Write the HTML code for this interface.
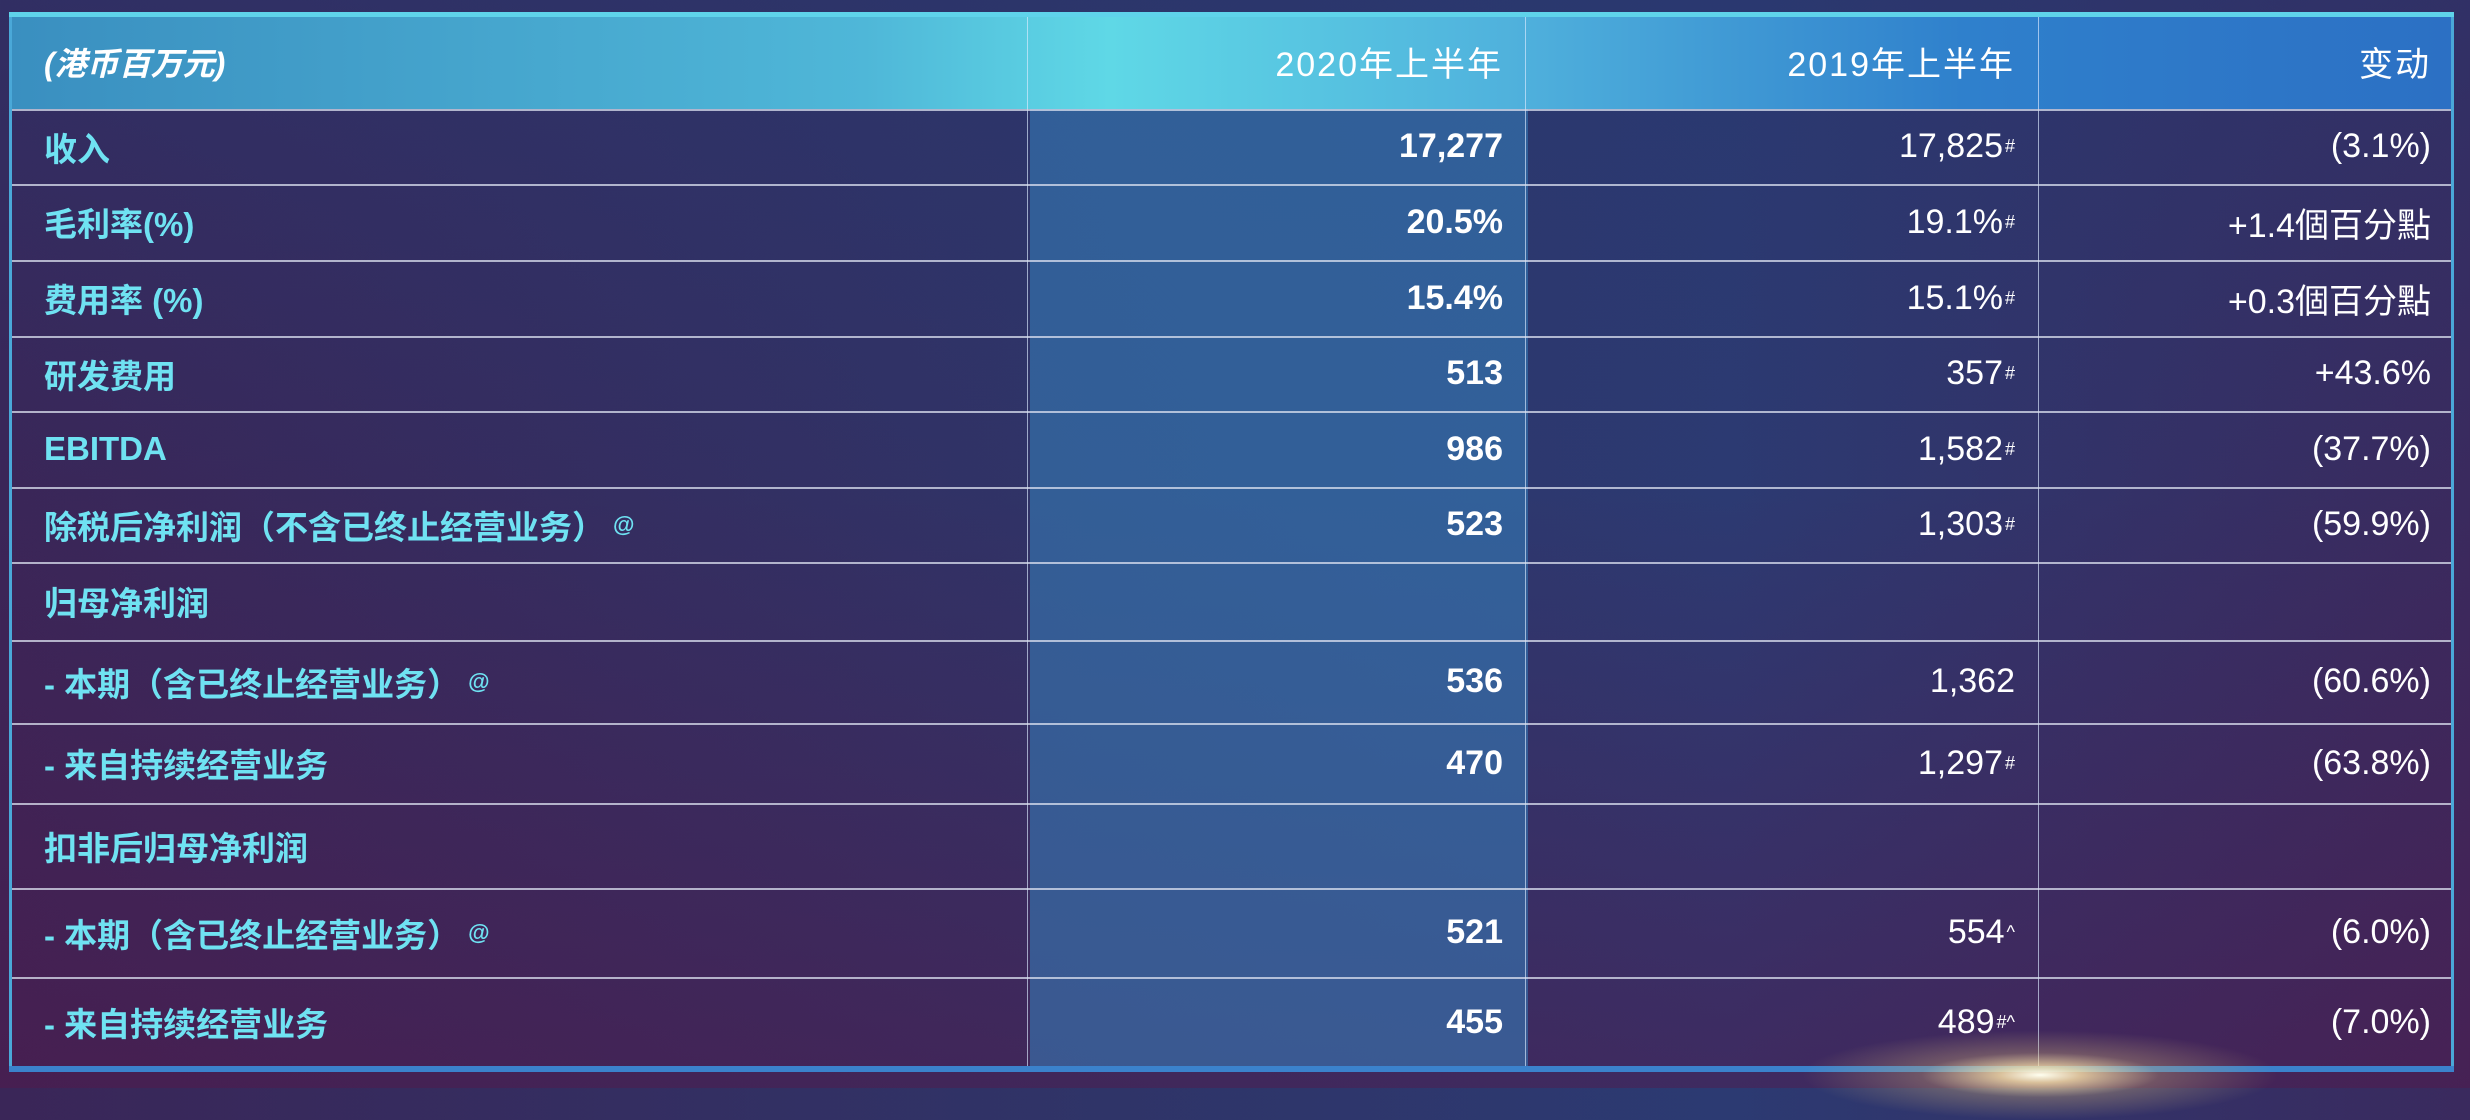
<!DOCTYPE html>
<html><head><meta charset="utf-8">
<style>
html,body{margin:0;padding:0;}
body{width:2470px;height:1088px;overflow:hidden;position:relative;
background:linear-gradient(90deg,#3a2658 0%,#2f3468 45%,#2c3a72 70%,#3a2a5e 100%);
font-family:"Liberation Sans","Noto Sans CJK SC",sans-serif;}
#bgshade{position:absolute;left:0;top:0;width:2470px;height:1088px;
background:linear-gradient(180deg,rgba(40,55,110,0.5) 0%,rgba(0,0,0,0) 45%,rgba(90,20,70,0.4) 100%);}
#table{position:absolute;left:9px;top:14px;width:2445px;height:1053px;border-left:3px solid #4aa8d8;border-right:3px solid #4aa8d8;box-sizing:border-box;}
#topbar{position:absolute;left:9px;top:12px;width:2445px;height:5px;background:#5fd3ea;}
#botbar{position:absolute;left:9px;top:1066px;width:2445px;height:6px;background:#3b82cc;}
#header{position:absolute;left:0;top:0;width:100%;height:95px;
background:linear-gradient(90deg,#3a8fc0 0%,#4fb7d8 35%,#5fd8e6 45%,#4fb0dc 62%,#2f80cc 80%,#2c70c4 100%);}
#col2020{position:absolute;left:1018px;top:95px;width:498px;height:958px;background:rgba(55,130,190,0.55);}
.vline{position:absolute;top:0;width:1px;height:1053px;background:rgba(220,235,255,0.65);}
.hline{position:absolute;left:0;width:100%;height:2px;background:rgba(220,225,240,0.75);}
.cell{position:absolute;display:flex;align-items:center;white-space:nowrap;}
.lbl{left:32px;color:#6fe2f2;font-weight:bold;font-size:33px;}
.h{color:#fff;font-size:50px;letter-spacing:2px;}
.c1{right:948px;justify-content:flex-end;color:#fff;font-weight:bold;font-size:34px;}
.c2{right:436px;justify-content:flex-end;color:#fff;font-size:34px;}
.c3{right:20px;justify-content:flex-end;color:#fff;font-size:34px;}
sup{font-size:18px;vertical-align:12px;margin-left:2px;}
.lbl sup{font-size:22px;vertical-align:16px;margin-left:8px;}
#glow{position:absolute;left:1800px;top:1030px;width:480px;height:90px;
background:radial-gradient(ellipse at center,rgba(255,255,240,1) 0%,rgba(255,230,170,0.8) 12%,rgba(200,170,120,0.35) 35%,rgba(0,0,0,0) 70%);}
</style></head><body>
<div id="bgshade"></div>
<div id="table">
  <div id="header"></div>
  <div id="col2020"></div>
  <div class="vline" style="left:1015px"></div>
  <div class="vline" style="left:1513px"></div>
  <div class="vline" style="left:2026px"></div>

  <div class="hline" style="top:95px"></div>
  <div class="hline" style="top:170px"></div>
  <div class="hline" style="top:246px"></div>
  <div class="hline" style="top:322px"></div>
  <div class="hline" style="top:397px"></div>
  <div class="hline" style="top:473px"></div>
  <div class="hline" style="top:548px"></div>
  <div class="hline" style="top:626px"></div>
  <div class="hline" style="top:709px"></div>
  <div class="hline" style="top:789px"></div>
  <div class="hline" style="top:874px"></div>
  <div class="hline" style="top:963px"></div>

  <div class="cell lbl" style="top:0;height:95px;color:#fff;font-style:italic;font-size:32px">(港币百万元)</div>
  <div class="cell c1 h" style="top:0;height:95px;font-weight:normal">2020年上半年</div>
  <div class="cell c2 h" style="top:0;height:95px">2019年上半年</div>
  <div class="cell c3 h" style="top:0;height:95px">变动</div>

  <div class="cell lbl" style="top:95px;height:75px">收入</div>
  <div class="cell c1" style="top:95px;height:75px">17,277</div>
  <div class="cell c2" style="top:95px;height:75px">17,825<sup>#</sup></div>
  <div class="cell c3" style="top:95px;height:75px">(3.1%)</div>

  <div class="cell lbl" style="top:170px;height:76px">毛利率(%)</div>
  <div class="cell c1" style="top:170px;height:76px">20.5%</div>
  <div class="cell c2" style="top:170px;height:76px">19.1%<sup>#</sup></div>
  <div class="cell c3" style="top:170px;height:76px">+1.4個百分點</div>

  <div class="cell lbl" style="top:246px;height:76px">费用率 (%)</div>
  <div class="cell c1" style="top:246px;height:76px">15.4%</div>
  <div class="cell c2" style="top:246px;height:76px">15.1%<sup>#</sup></div>
  <div class="cell c3" style="top:246px;height:76px">+0.3個百分點</div>

  <div class="cell lbl" style="top:322px;height:75px">研发费用</div>
  <div class="cell c1" style="top:322px;height:75px">513</div>
  <div class="cell c2" style="top:322px;height:75px">357<sup>#</sup></div>
  <div class="cell c3" style="top:322px;height:75px">+43.6%</div>

  <div class="cell lbl" style="top:397px;height:76px">EBITDA</div>
  <div class="cell c1" style="top:397px;height:76px">986</div>
  <div class="cell c2" style="top:397px;height:76px">1,582<sup>#</sup></div>
  <div class="cell c3" style="top:397px;height:76px">(37.7%)</div>

  <div class="cell lbl" style="top:473px;height:75px">除税后净利润（不含已终止经营业务）<sup>@</sup></div>
  <div class="cell c1" style="top:473px;height:75px">523</div>
  <div class="cell c2" style="top:473px;height:75px">1,303<sup>#</sup></div>
  <div class="cell c3" style="top:473px;height:75px">(59.9%)</div>

  <div class="cell lbl" style="top:548px;height:78px">归母净利润</div>

  <div class="cell lbl" style="top:626px;height:83px">- 本期（含已终止经营业务）<sup>@</sup></div>
  <div class="cell c1" style="top:626px;height:83px">536</div>
  <div class="cell c2" style="top:626px;height:83px">1,362</div>
  <div class="cell c3" style="top:626px;height:83px">(60.6%)</div>

  <div class="cell lbl" style="top:709px;height:80px">- 来自持续经营业务</div>
  <div class="cell c1" style="top:709px;height:80px">470</div>
  <div class="cell c2" style="top:709px;height:80px">1,297<sup>#</sup></div>
  <div class="cell c3" style="top:709px;height:80px">(63.8%)</div>

  <div class="cell lbl" style="top:789px;height:85px">扣非后归母净利润</div>

  <div class="cell lbl" style="top:874px;height:89px">- 本期（含已终止经营业务）<sup>@</sup></div>
  <div class="cell c1" style="top:874px;height:89px">521</div>
  <div class="cell c2" style="top:874px;height:89px">554<sup>^</sup></div>
  <div class="cell c3" style="top:874px;height:89px">(6.0%)</div>

  <div class="cell lbl" style="top:963px;height:90px">- 来自持续经营业务</div>
  <div class="cell c1" style="top:963px;height:90px">455</div>
  <div class="cell c2" style="top:963px;height:90px">489<sup>#^</sup></div>
  <div class="cell c3" style="top:963px;height:90px">(7.0%)</div>
</div>
<div id="topbar"></div>
<div id="botbar"></div>
<div id="glow"></div>
</body></html>
